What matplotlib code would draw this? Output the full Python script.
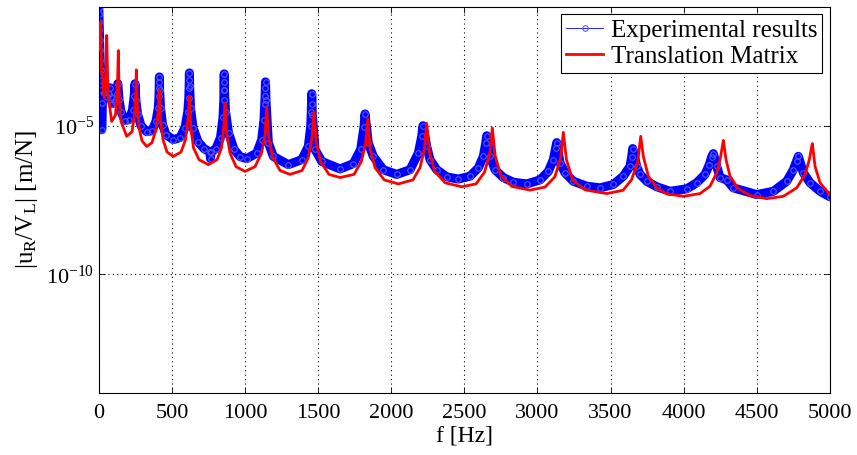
import numpy as np
import matplotlib
matplotlib.use('Agg')
import matplotlib.pyplot as plt
from matplotlib.ticker import FixedLocator, FixedFormatter, NullLocator

plt.rcParams['font.family'] = ['Liberation Serif', 'DejaVu Serif']
plt.rcParams['mathtext.fontset'] = 'custom'
plt.rcParams['mathtext.rm'] = 'Liberation Serif'
plt.rcParams['mathtext.it'] = 'Liberation Serif:italic'

# translation matrix model
tm_freq = [2, 13, 18.5, 37.6, 49.2, 54, 62.9, 88.2, 114.2, 127.9,
           133.4, 139.5, 151.8, 190.8, 227.1, 244.2, 252.4, 256.5, 262.7, 275,
           295.5, 327.6, 363.9, 391.2, 407, 413.8, 422, 439.1, 466.5, 509.6,
           562.2, 593, 611.5, 619, 628.6, 647.7, 685.4, 749, 808.5, 839.3,
           855, 863.2, 874.2, 897.4, 938.4, 1000, 1068.4, 1112.9, 1138.2, 1148.4,
           1161.4, 1187.4, 1239.4, 1307.8, 1389.9, 1433, 1458.3, 1472, 1486.3, 1516.4,
           1574.6, 1649.8, 1745.6, 1794.8, 1824.2, 1839.3, 1855, 1889.2, 1952.1, 2048.6,
           2149.1, 2197, 2226.4, 2242.8, 2260.6, 2296.9, 2368, 2482.2, 2580, 2637.5,
           2673.8, 2691.5, 2710.7, 2749.7, 2826.3, 2949.4, 3052, 3119, 3158, 3177.2,
           3198.4, 3240.8, 3325.6, 3474, 3585.5, 3643, 3685.4, 3706.6, 3724.4, 3758.6,
           3816, 3884.4, 3998, 4112.2, 4180.6, 4226.4, 4249, 4264.7, 4271.6, 4290,
           4317.4, 4374.2, 4454.2, 4568.4, 4682, 4773.6, 4830.4, 4859.8, 4876.2, 4880.3,
           4898.8, 4933, 5000]
tm_mag = [3.6e-3, 3.2e-2, 7.6e-4, 8.5e-5, 7.6e-4, 1.1e-2, 1.1e-4, 1.4e-5, 2.3e-5, 2.4e-4,
          3.4e-3, 7.5e-5, 1.4e-5, 4.4e-6, 6.3e-6, 2.3e-5, 1.1e-4, 7.6e-4, 5.1e-5, 8.6e-6,
          3.1e-6, 2.0e-6, 2.7e-6, 7.4e-6, 3.4e-5, 1.6e-4, 1.6e-5, 3.4e-6, 1.3e-6, 9.3e-7,
          1.3e-6, 3.4e-6, 1.9e-5, 1.0e-4, 9.3e-6, 1.8e-6, 7.2e-7, 4.9e-7, 7.2e-7, 1.8e-6,
          9.3e-6, 5.8e-5, 5.4e-6, 1.2e-6, 4.2e-7, 2.9e-7, 4.2e-7, 1.2e-6, 5.4e-6, 4.5e-5,
          4.3e-6, 9.1e-7, 3.1e-7, 2.3e-7, 3.1e-7, 8.4e-7, 4.0e-6, 3.0e-5, 2.9e-6, 6.2e-7,
          2.3e-7, 1.8e-7, 2.3e-7, 6.2e-7, 2.3e-6, 1.7e-5, 1.8e-6, 3.9e-7, 1.5e-7, 1.1e-7,
          1.5e-7, 3.9e-7, 1.6e-6, 1.2e-5, 1.3e-6, 2.9e-7, 1.2e-7, 8.8e-8, 1.1e-7, 2.7e-7,
          1.1e-6, 8.4e-6, 9.8e-7, 2.1e-7, 9.0e-8, 6.8e-8, 8.6e-8, 1.9e-7, 7.8e-7, 6.0e-6,
          7.2e-7, 1.5e-7, 6.9e-8, 5.2e-8, 6.7e-8, 1.5e-7, 5.7e-7, 4.4e-6, 9.3e-7, 2.0e-7,
          8.1e-8, 5.1e-8, 4.2e-8, 5.2e-8, 9.2e-8, 2.6e-7, 7.2e-7, 2.0e-6, 3.2e-6, 7.2e-7,
          2.0e-7, 7.5e-8, 4.5e-8, 3.5e-8, 4.2e-8, 8.1e-8, 2.3e-7, 7.2e-7, 2.0e-6, 2.5e-6,
          4.3e-7, 1.2e-7, 4.8e-8]

exp_freq = [0, 0.7, 2.1, 3.4, 4.8, 6.8, 8.9, 11.6, 15, 17.8,
            19.8, 23.9, 35.6, 52.7, 66.3, 76.6, 83.4, 92.3, 107.4, 121.1,
            130, 138.2, 151.8, 179.2, 206.6, 230.5, 242.1, 247.6, 253.1, 264.7,
            288.6, 327.6, 363.9, 391.2, 407, 411.8, 413.1, 413.8, 414.5, 415.9,
            422, 435.7, 459.6, 509.6, 555.4, 589.6, 608.8, 615.6, 617.7, 619,
            619.7, 621.1, 627.2, 644.3, 678.5, 719.6, 760.6, 764, 767.4, 801.6,
            832.4, 849.5, 855, 856.4, 857.1, 857.7, 859.1, 866.6, 887.1, 924.8,
            965.8, 1011.6, 1080, 1114.2, 1130, 1135.4, 1137.5, 1138.9, 1140.2, 1142.9,
            1159.4, 1193.6, 1296.2, 1387.8, 1433, 1449.4, 1453.5, 1454.9, 1456.2, 1460.3,
            1478.8, 1524.6, 1649.8, 1740.8, 1791.4, 1814, 1820.8, 1843.4, 1877.6, 1946,
            2037.6, 2128.6, 2185.4, 2208.6, 2217.5, 2242.8, 2265.4, 2311.2, 2379.6, 2458.9,
            2539, 2595.8, 2630, 2646.4, 2653.2, 2675.8, 2710, 2766.8, 2835.2, 2926.9,
            3017.8, 3074.6, 3108.8, 3125.2, 3132, 3154.6, 3188.8, 3245.6, 3337.2, 3428.2,
            3519.2, 3587.6, 3633.4, 3645, 3651.9, 3679.2, 3701.8, 3747.6, 3816, 3907,
            4021.2, 4089.6, 4146.4, 4175.8, 4192.2, 4203.2, 4226.4, 4249, 4294.8, 4340,
            4500, 4613.6, 4705.2, 4750.4, 4773.6, 4784.6, 4818.8, 4864.6, 4933, 5000]
exp_mag = [9.1e-2, 5.7e-2, 3.1e-2, 1.7e-2, 7.7e-3, 3.6e-3, 1.6e-3, 7.6e-4, 3.5e-4, 1.6e-4,
           7.3e-6, 5.9e-5, 1.3e-4, 9.4e-5, 1.2e-4, 1.9e-4, 9.4e-5, 5.5e-5, 6.4e-5, 1.2e-4,
           2.6e-4, 7.5e-5, 3.0e-5, 1.5e-5, 1.6e-5, 3.4e-5, 1.0e-4, 2.6e-4, 7.5e-5, 2.5e-5,
           1.0e-5, 6.3e-6, 6.8e-6, 1.4e-5, 4.0e-5, 1.0e-4, 1.9e-4, 3.0e-4, 4.4e-4, 1.6e-4,
           4.0e-5, 1.1e-5, 5.0e-6, 3.4e-6, 4.0e-6, 8.6e-6, 3.0e-5, 8.7e-5, 1.9e-4, 3.5e-4,
           6.0e-4, 2.2e-4, 4.0e-5, 8.6e-6, 2.9e-6, 1.7e-6, 1.3e-6, 7.8e-7, 1.3e-6, 1.7e-6,
           4.0e-6, 1.9e-5, 7.5e-5, 1.6e-4, 3.0e-4, 5.6e-4, 1.6e-4, 3.0e-5, 5.8e-6, 1.6e-6,
           9.1e-7, 7.8e-7, 1.2e-6, 3.4e-6, 1.6e-5, 5.5e-5, 1.0e-4, 1.9e-4, 3.0e-4, 7.5e-5,
           2.7e-6, 9.3e-7, 4.9e-7, 7.2e-7, 2.0e-6, 9.5e-6, 3.0e-5, 5.5e-5, 1.2e-4, 2.3e-5,
           1.6e-6, 6.3e-7, 3.5e-7, 5.3e-7, 1.6e-6, 9.3e-6, 2.5e-5, 2.6e-6, 9.3e-7, 3.3e-7,
           2.3e-7, 3.3e-7, 1.2e-6, 4.4e-6, 1.0e-5, 2.0e-6, 7.2e-7, 3.3e-7, 1.9e-7, 1.6e-7,
           2.0e-7, 3.8e-7, 9.3e-7, 2.6e-6, 4.6e-6, 9.3e-7, 3.3e-7, 1.8e-7, 1.25e-7, 1.1e-7,
           1.5e-7, 2.9e-7, 7.2e-7, 1.8e-6, 2.7e-6, 5.6e-7, 2.6e-7, 1.35e-7, 9.2e-8, 8.1e-8,
           1.05e-7, 2.0e-7, 4.3e-7, 9.1e-7, 1.7e-6, 4.3e-7, 2.3e-7, 1.35e-7, 8.8e-8, 6.2e-8,
           7.5e-8, 1.2e-7, 2.3e-7, 4.9e-7, 9.1e-7, 1.15e-6, 4.3e-7, 1.8e-7, 1.5e-7, 8.1e-8,
           4.8e-8, 6.2e-8, 1.35e-7, 3.3e-7, 6.7e-7, 9.3e-7, 2.6e-7, 1.2e-7, 6.2e-8, 4.05e-8]

x_ticks = [0, 500, 1000, 1500, 2000, 2500, 3000, 3500, 4000, 4500, 5000]
y_ticks = [1e-10, 1e-5]
y_ticklabels = [r'$\mathrm{10^{-10}}$', r'$\mathrm{10^{-5}}$']

fig = plt.figure(figsize=(8.57, 4.55), dpi=100)
ax = fig.add_axes([0.1153, 0.1363, 0.853, 0.8484])

# thick band of experimental points, then the labelled marker line on top
ax.plot(exp_freq, exp_mag, color='#0000ff', lw=6.5, solid_joinstyle='round',
        solid_capstyle='round', zorder=2)
ax.plot(exp_freq, exp_mag, color='#0000ff', lw=0.6, marker='o', ms=4,
        mfc='none', mec='#5a5aff', mew=0.8, zorder=2.5, label='Experimental results')
ax.plot(tm_freq, tm_mag, color='#ff0000', lw=2, solid_joinstyle='round',
        zorder=3, label='Translation Matrix')

ax.set_yscale('log')
ax.set_xlim(0, 5000)
ax.set_ylim(1e-14, 1e-1)
ax.xaxis.set_major_locator(FixedLocator(x_ticks))
ax.yaxis.set_major_locator(FixedLocator(y_ticks))
ax.yaxis.set_major_formatter(FixedFormatter(y_ticklabels))
ax.yaxis.set_minor_locator(NullLocator())
ax.tick_params(direction='in', top=True, right=True, labelsize=16, length=4, width=0.6)
ax.tick_params(axis='x', pad=8)
ax.grid(True, linestyle=(0, (1, 3)), color='black', linewidth=0.8)
for s in ax.spines.values():
    s.set_linewidth(0.8)

ax.set_xlabel('f [Hz]', fontsize=17, labelpad=2)
ax.set_ylabel(r'$|\mathrm{u_R/V_L}|$ [m/N]', fontsize=18, labelpad=4)

leg = ax.legend(loc='upper right', fontsize=18, fancybox=False, framealpha=1,
                edgecolor='black', borderaxespad=0.3, handlelength=1.5,
                handletextpad=0.3, borderpad=0.2, labelspacing=0.15, numpoints=1)
leg.get_frame().set_linewidth(0.8)

fig.savefig('out.png', dpi=100)
